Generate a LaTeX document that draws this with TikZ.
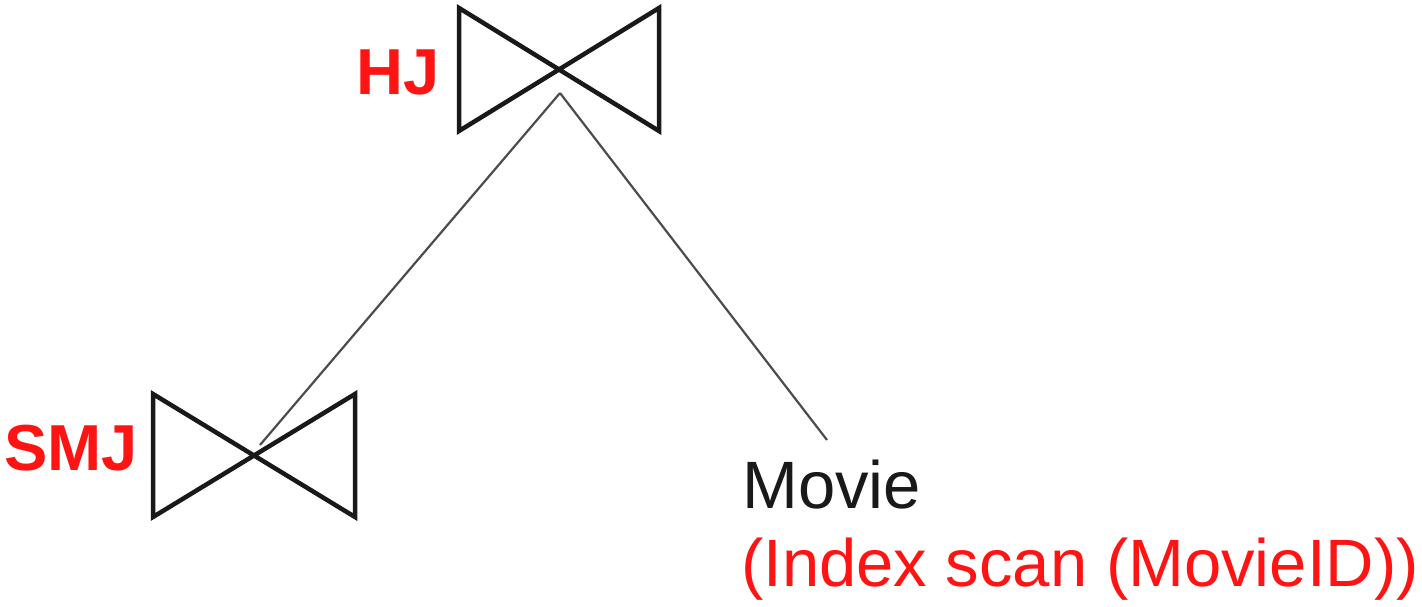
\documentclass[tikz,border=0pt]{standalone}
\usepackage{fontspec}
\setmainfont{Liberation Sans}
\definecolor{opred}{RGB}{255,20,20}
\begin{document}
\begin{tikzpicture}[x=1pt,y=-1pt,
  joinsym/.style={draw=black!90,line width=4.5pt,line join=miter},
  edge/.style={draw=black!70,line width=2.2pt},
  oplabel/.style={text=opred,font=\fontsize{65}{70}\selectfont\bfseries,inner sep=0pt},
  relname/.style={text=black!90,font=\fontsize{67}{72}\selectfont,inner sep=0pt},
  scanname/.style={text=opred,font=\fontsize{67}{72}\selectfont,inner sep=0pt}]
  \useasboundingbox (0,0) rectangle (1422,607);

  % hash join (root)
  \coordinate (hj) at (559,70);
  \coordinate (hjin) at (560,93);
  \draw[joinsym] (459,8) -- (659,131) -- (659,8) -- (459,131) -- cycle;
  \node[oplabel,anchor=base east] (hjlabel) at (440,95) {HJ};

  % sort-merge join (left child)
  \coordinate (smj) at (254,456);
  \coordinate (smjout) at (260,445);
  \draw[joinsym] (153,394) -- (355,517) -- (355,394) -- (153,517) -- cycle;
  \node[oplabel,anchor=base east] (smjlabel) at (138,470) {SMJ};

  % Movie relation (right child)
  \coordinate (movietop) at (827,440);
  \node[relname,anchor=base west] (movie) at (742,508) {Movie};
  \node[scanname,anchor=base west] (scan) at (741,586) {(Index scan (MovieID))};

  % plan edges
  \draw[edge] (hjin) -- (smjout);
  \draw[edge] (hjin) -- (movietop);
\end{tikzpicture}
\end{document}
